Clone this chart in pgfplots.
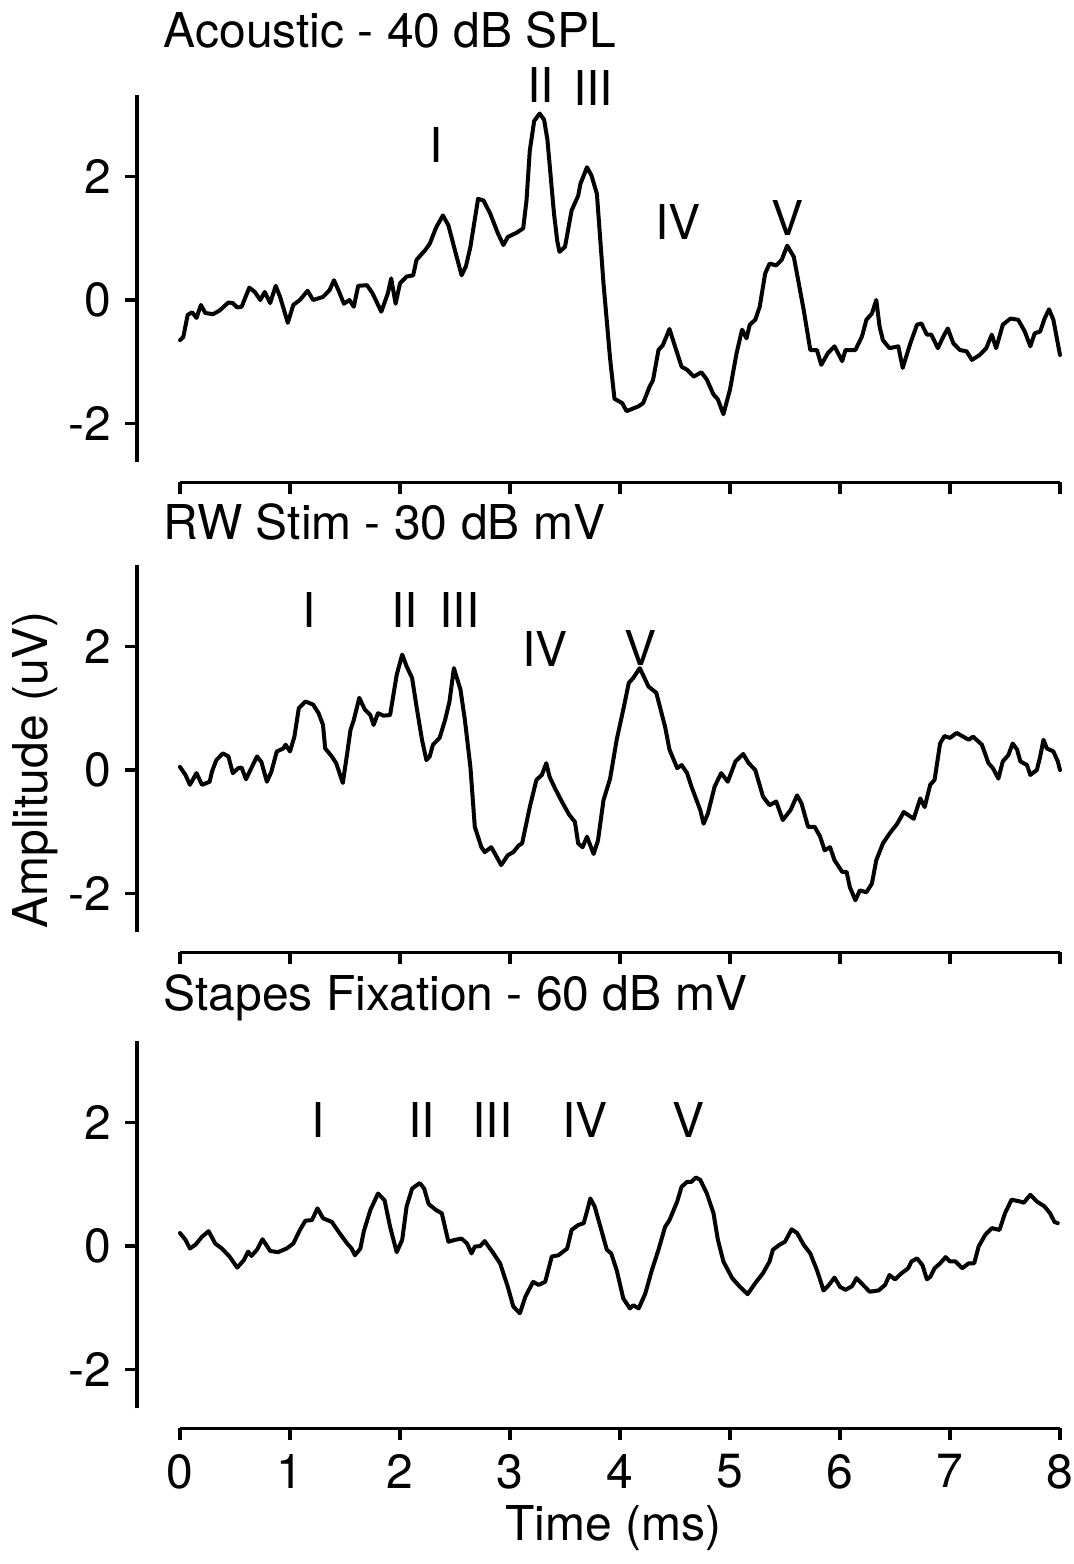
\documentclass[border=0pt]{standalone}
\usepackage{fontspec}
\setmainfont{TeX Gyre Heros}
\usepackage{pgfplots}
\pgfplotsset{compat=1.18}
\usepackage{pgfplotstable}

\pgfplotstableread{
t v
0.00 -0.65
0.03 -0.60
0.07 -0.24
0.11 -0.20
0.15 -0.29
0.19 -0.08
0.23 -0.21
0.30 -0.23
0.36 -0.17
0.44 -0.04
0.48 -0.05
0.52 -0.12
0.56 -0.11
0.63 0.20
0.68 0.13
0.73 0.00
0.77 0.13
0.82 -0.05
0.87 0.23
0.91 0.05
0.98 -0.37
1.03 -0.08
1.09 0.00
1.16 0.15
1.21 0.00
1.30 0.05
1.36 0.16
1.40 0.32
1.44 0.16
1.49 -0.06
1.54 0.00
1.58 -0.11
1.62 0.23
1.70 0.24
1.75 0.11
1.83 -0.19
1.89 0.11
1.92 0.35
1.96 -0.06
2.00 0.27
2.06 0.38
2.12 0.40
2.15 0.65
2.23 0.81
2.27 0.91
2.33 1.18
2.39 1.37
2.44 1.21
2.50 0.80
2.56 0.40
2.60 0.55
2.64 0.86
2.71 1.64
2.76 1.61
2.82 1.40
2.89 1.08
2.94 0.89
2.98 1.02
3.06 1.09
3.12 1.16
3.15 1.61
3.18 2.42
3.22 2.90
3.27 3.02
3.31 2.92
3.34 2.60
3.37 2.00
3.40 1.40
3.43 0.95
3.45 0.78
3.50 0.86
3.56 1.45
3.62 1.69
3.64 1.88
3.70 2.15
3.74 2.02
3.79 1.72
3.85 0.27
3.91 -0.95
3.95 -1.60
4.02 -1.67
4.06 -1.80
4.17 -1.72
4.21 -1.67
4.27 -1.40
4.30 -1.30
4.35 -0.81
4.39 -0.73
4.45 -0.47
4.50 -0.75
4.56 -1.08
4.61 -1.13
4.67 -1.24
4.74 -1.17
4.79 -1.29
4.85 -1.53
4.89 -1.61
4.94 -1.85
5.00 -1.45
5.06 -0.86
5.11 -0.48
5.15 -0.62
5.18 -0.40
5.23 -0.32
5.27 -0.11
5.32 0.43
5.36 0.59
5.42 0.56
5.47 0.65
5.52 0.88
5.58 0.70
5.62 0.32
5.67 -0.16
5.73 -0.81
5.79 -0.81
5.83 -1.05
5.89 -0.86
5.95 -0.75
6.02 -0.99
6.05 -0.81
6.14 -0.81
6.20 -0.59
6.24 -0.32
6.29 -0.22
6.33 0.00
6.36 -0.43
6.39 -0.65
6.45 -0.78
6.53 -0.75
6.57 -1.10
6.64 -0.70
6.70 -0.40
6.74 -0.38
6.79 -0.56
6.83 -0.56
6.89 -0.78
6.94 -0.59
6.98 -0.46
7.03 -0.70
7.09 -0.81
7.15 -0.83
7.20 -0.97
7.27 -0.89
7.33 -0.78
7.38 -0.56
7.42 -0.78
7.48 -0.40
7.55 -0.30
7.62 -0.32
7.68 -0.51
7.73 -0.75
7.77 -0.54
7.82 -0.51
7.86 -0.30
7.90 -0.15
7.94 -0.32
8.00 -0.89
}\acoustic

\pgfplotstableread{
t v
0.00 0.05
0.05 -0.08
0.09 -0.24
0.15 -0.05
0.20 -0.24
0.27 -0.19
0.29 -0.03
0.33 0.16
0.39 0.27
0.44 0.22
0.48 -0.05
0.53 0.03
0.56 0.04
0.60 -0.15
0.64 0.00
0.70 0.22
0.74 0.13
0.79 -0.19
0.83 -0.03
0.88 0.30
0.94 0.35
0.96 0.41
1.00 0.30
1.04 0.54
1.08 1.00
1.14 1.11
1.21 1.06
1.26 0.92
1.30 0.73
1.32 0.35
1.38 0.22
1.42 0.11
1.48 -0.21
1.52 0.27
1.55 0.65
1.58 0.81
1.63 1.17
1.68 0.98
1.73 0.89
1.76 0.73
1.80 0.92
1.85 0.88
1.91 0.89
1.97 1.54
2.02 1.87
2.06 1.68
2.11 1.49
2.15 1.03
2.20 0.49
2.24 0.16
2.27 0.22
2.30 0.41
2.36 0.52
2.41 0.81
2.45 1.11
2.49 1.65
2.55 1.30
2.59 0.81
2.64 0.05
2.68 -0.92
2.74 -1.25
2.77 -1.33
2.83 -1.25
2.88 -1.41
2.92 -1.54
2.98 -1.38
3.03 -1.33
3.08 -1.22
3.11 -1.19
3.18 -0.60
3.24 -0.16
3.29 -0.08
3.33 0.11
3.36 -0.11
3.41 -0.30
3.48 -0.54
3.54 -0.73
3.59 -0.84
3.62 -1.19
3.66 -1.25
3.70 -1.08
3.76 -1.36
3.80 -1.14
3.85 -0.49
3.91 -0.14
3.97 0.49
4.03 0.98
4.08 1.41
4.12 1.49
4.18 1.65
4.26 1.35
4.33 1.25
4.41 0.70
4.45 0.33
4.52 0.03
4.56 0.08
4.61 -0.05
4.65 -0.27
4.73 -0.65
4.76 -0.87
4.80 -0.70
4.86 -0.27
4.92 -0.05
4.98 -0.19
5.05 0.14
5.12 0.26
5.17 0.11
5.23 0.00
5.30 -0.43
5.36 -0.57
5.42 -0.51
5.48 -0.81
5.55 -0.65
5.61 -0.41
5.65 -0.54
5.71 -0.92
5.77 -0.92
5.82 -1.08
5.86 -1.30
5.91 -1.25
5.95 -1.46
6.02 -1.65
6.06 -1.65
6.09 -1.90
6.14 -2.11
6.18 -1.95
6.24 -1.98
6.29 -1.84
6.33 -1.46
6.39 -1.19
6.45 -1.03
6.52 -0.87
6.58 -0.68
6.67 -0.79
6.73 -0.46
6.77 -0.60
6.82 -0.24
6.86 -0.16
6.91 0.43
6.95 0.55
7.00 0.52
7.06 0.60
7.17 0.49
7.21 0.54
7.29 0.41
7.35 0.11
7.39 0.03
7.44 -0.14
7.48 0.14
7.53 0.24
7.57 0.43
7.61 0.33
7.64 0.14
7.70 0.08
7.73 -0.08
7.79 0.00
7.82 0.22
7.85 0.49
7.88 0.35
7.94 0.30
7.98 0.14
8.00 0.00
}\rwstim

\pgfplotstableread{
t v
0.00 0.21
0.05 0.10
0.09 -0.04
0.14 0.02
0.20 0.15
0.26 0.24
0.32 0.04
0.38 -0.04
0.45 -0.17
0.52 -0.35
0.58 -0.23
0.62 -0.09
0.65 -0.16
0.70 -0.06
0.75 0.11
0.82 -0.08
0.89 -0.10
0.97 -0.04
1.03 0.04
1.09 0.26
1.14 0.41
1.20 0.42
1.25 0.61
1.30 0.45
1.38 0.39
1.45 0.21
1.52 0.04
1.56 -0.04
1.59 -0.15
1.64 -0.04
1.67 0.23
1.73 0.58
1.80 0.85
1.86 0.74
1.91 0.31
1.97 -0.10
2.02 0.10
2.06 0.64
2.11 0.93
2.18 1.02
2.22 0.93
2.26 0.68
2.33 0.58
2.38 0.53
2.44 0.07
2.50 0.10
2.56 0.12
2.61 0.04
2.65 -0.12
2.68 -0.01
2.73 0.00
2.77 0.08
2.85 -0.12
2.91 -0.28
2.98 -0.66
3.03 -0.98
3.09 -1.09
3.14 -0.82
3.21 -0.58
3.26 -0.63
3.32 -0.58
3.38 -0.17
3.44 -0.15
3.52 -0.04
3.56 0.26
3.62 0.34
3.67 0.37
3.70 0.56
3.73 0.77
3.77 0.64
3.83 0.26
3.88 -0.06
3.92 -0.12
3.97 -0.39
4.03 -0.85
4.09 -1.01
4.12 -0.96
4.17 -1.01
4.23 -0.77
4.29 -0.39
4.35 -0.06
4.41 0.31
4.45 0.42
4.52 0.72
4.56 0.96
4.61 1.04
4.65 1.04
4.69 1.11
4.73 1.07
4.79 0.85
4.85 0.53
4.89 0.10
4.94 -0.25
5.02 -0.52
5.09 -0.66
5.16 -0.78
5.23 -0.60
5.30 -0.44
5.36 -0.25
5.39 -0.06
5.45 0.02
5.50 0.07
5.56 0.27
5.61 0.21
5.67 0.02
5.73 -0.12
5.79 -0.39
5.82 -0.55
5.85 -0.72
5.90 -0.63
5.95 -0.51
6.00 -0.66
6.05 -0.71
6.11 -0.65
6.15 -0.52
6.21 -0.63
6.27 -0.74
6.35 -0.72
6.41 -0.63
6.45 -0.47
6.50 -0.54
6.56 -0.44
6.62 -0.36
6.65 -0.25
6.70 -0.20
6.75 -0.31
6.79 -0.54
6.82 -0.50
6.86 -0.36
6.91 -0.28
6.96 -0.18
7.00 -0.25
7.05 -0.25
7.11 -0.36
7.17 -0.28
7.22 -0.28
7.26 -0.01
7.32 0.18
7.38 0.29
7.45 0.26
7.50 0.53
7.56 0.75
7.64 0.72
7.67 0.70
7.73 0.83
7.79 0.72
7.86 0.64
7.91 0.53
7.95 0.39
7.98 0.37
}\stapes

\newcommand{\fs}{\fontsize{12}{14.4}\selectfont}
\tikzset{axlines/.style={line width=0.8pt, black}}

\pgfplotsset{
  erp/.style={
    x=27.5pt, y=15.4375pt,
    xmin=-0.39, xmax=8, ymin=-2.95, ymax=3.32,
    axis x line*=bottom, axis y line*=left,
    axis line style={draw=none},
    xtick={0,1,2,3,4,5,6,7,8},
    ytick={-2,0,2}, yticklabels={-2,0,2},
    tick align=outside, major tick length=3pt,
    tick style={line width=0.8pt, black},
    minor tick num=0,
    clip=false, scale only axis,
    anchor=south west,
    ticklabel style={font=\fs},
    every axis plot/.append style={line width=1pt, black, line join=round, line cap=round},
  },
}

\begin{document}
\begin{tikzpicture}[font=\fs]
\path[use as bounding box] (0pt,0pt) rectangle (268.25pt,-391pt);

% Panel 1
\begin{axis}[erp, at={(34.275pt,-120.54pt)}, xticklabels={}]
  \addplot[no marks] table[x=t,y=v] {\acoustic};
  \draw[axlines] (axis cs:0,-2.95) -- (axis cs:8,-2.95);
  \draw[axlines] (axis cs:-0.39,-2.63) -- (axis cs:-0.39,3.32);
  \node[anchor=west, inner sep=0pt] at (axis cs:-0.155,4.37) {Acoustic - 40 dB SPL};
  \node at (axis cs:2.33,2.51) {I};
  \node at (axis cs:3.28,3.48) {II};
  \node at (axis cs:3.755,3.43) {III};
  \node at (axis cs:4.53,1.26) {IV};
  \node at (axis cs:5.52,1.32) {V};
\end{axis}

% Panel 2
\begin{axis}[erp, at={(34.275pt,-238.04pt)}, xticklabels={}]
  \addplot[no marks] table[x=t,y=v] {\rwstim};
  \draw[axlines] (axis cs:0,-2.95) -- (axis cs:8,-2.95);
  \draw[axlines] (axis cs:-0.39,-2.63) -- (axis cs:-0.39,3.32);
  \node[anchor=west, inner sep=0pt] at (axis cs:-0.155,4.02) {RW Stim - 30 dB mV};
  \node at (axis cs:1.17,2.59) {I};
  \node at (axis cs:2.045,2.59) {II};
  \node at (axis cs:2.54,2.59) {III};
  \node at (axis cs:3.32,1.96) {IV};
  \node at (axis cs:4.19,1.98) {V};
  \node[rotate=90] at (axis cs:-1.32,0) {Amplitude (uV)};
\end{axis}

% Panel 3
\begin{axis}[erp, at={(34.275pt,-357.04pt)}, xticklabels={0,1,2,3,4,5,6,7,8}]
  \addplot[no marks] table[x=t,y=v] {\stapes};
  \draw[axlines] (axis cs:0,-2.95) -- (axis cs:8,-2.95);
  \draw[axlines] (axis cs:-0.39,-2.63) -- (axis cs:-0.39,3.32);
  \node[anchor=west, inner sep=0pt] at (axis cs:-0.155,4.02) {Stapes Fixation - 60 dB mV};
  \node at (axis cs:1.255,2.04) {I};
  \node at (axis cs:2.2,2.04) {II};
  \node at (axis cs:2.84,2.04) {III};
  \node at (axis cs:3.68,2.04) {IV};
  \node at (axis cs:4.62,2.04) {V};
  \node at (axis cs:3.94,-4.56) {Time (ms)};
\end{axis}
\end{tikzpicture}
\end{document}
